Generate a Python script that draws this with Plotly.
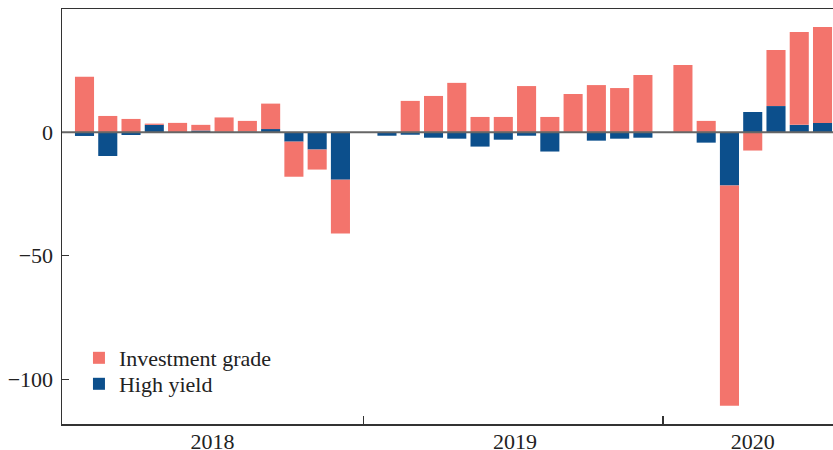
import plotly.graph_objects as go

# ---- data ----
years = [2018] * 12 + [2019] * 12 + [2020] * 7
months = list(range(1, 13)) + list(range(1, 13)) + list(range(1, 8))

investment_grade = [
    22.5, 6.6, 5.4, 0.5, 3.8, 2.3, 5.8, 4.3, 10.3, -14.2, -8.1, -21.8,
    0.0, 12.7, 14.7, 20.0, 6.2, 6.2, 18.7, 6.2, 15.5, 19.1, 17.9, 23.2,
    27.2, 4.6, -89.1, -7.4, 22.7, 37.6, 38.8,
]
high_yield = [
    -1.5, -9.6, -1.1, 3.0, 0.0, 0.7, 0.2, 0.3, 1.3, -3.8, -7.0, -19.2,
    -1.4, -1.0, -2.2, -2.6, -5.8, -3.0, -1.4, -7.8, 0.0, -3.4, -2.6, -2.2,
    0.0, -4.2, -21.6, 8.2, 10.6, 3.0, 3.8,
]
year_labels = ["2018", "2019", "2020"]
y_tickvals = [0, -50, -100]

# slot layout: months within a year, with a gap between years
year_offset = {2018: 0.0, 2019: 13.0, 2020: 25.72}
x = [year_offset[y] + (m - 1) for y, m in zip(years, months)]

# year label positions (center of each year's bars) and boundary ticks
centers = []
for yl in year_labels:
    xs = [xx for xx, yy in zip(x, years) if str(yy) == yl]
    centers.append(sum(xs) / len(xs))
bounds = []
for a, b in zip(year_labels[:-1], year_labels[1:]):
    last_a = max(xx for xx, yy in zip(x, years) if str(yy) == a)
    first_b = min(xx for xx, yy in zip(x, years) if str(yy) == b)
    bounds.append((last_a + first_b) / 2)

RED = "#F3746C"
BLUE = "#0C4F8C"
FONT = "Liberation Serif"
TXT = "#222222"

fig = go.Figure()
fig.add_trace(go.Bar(x=x, y=high_yield, name="High yield", marker_color=BLUE,
                     marker_line_width=0, width=0.82, legend="legend2"))
fig.add_trace(go.Bar(x=x, y=investment_grade, name="Investment grade", marker_color=RED,
                     marker_line_width=0, width=0.82, legend="legend"))

leg_common = dict(xanchor="left", yanchor="middle", bgcolor="rgba(0,0,0,0)",
                  font=dict(family=FONT, size=22, color=TXT), itemclick=False)
fig.update_layout(
    width=833, height=450,
    margin=dict(l=62, r=0, t=9, b=26, autoexpand=False),
    barmode="relative",
    plot_bgcolor="white", paper_bgcolor="white",
    font=dict(family=FONT, size=22, color=TXT),
    showlegend=True,
    legend=dict(x=0.022, y=0.159, **leg_common),
    legend2=dict(x=0.022, y=0.0964, **leg_common),
)

fig.update_xaxes(
    range=[-0.967, 32.17], automargin=False,
    showgrid=False, zeroline=False,
    showline=True, linecolor="#333333", linewidth=1.5, mirror=True,
    tickmode="array", tickvals=centers, ticktext=year_labels,
    ticks="", ticklen=0, ticklabelstandoff=-3,
    minor=dict(tickmode="array", tickvals=bounds, ticks="inside", ticklen=8,
               tickcolor="#333333", tickwidth=1.2, showgrid=False),
    tickfont=dict(family=FONT, size=22, color=TXT),
)
fig.update_yaxes(
    range=[-118.1, 49.9], automargin=False,
    showgrid=False, zeroline=False,
    showline=True, linecolor="#333333", linewidth=1.5, mirror=False,
    tickmode="array", tickvals=y_tickvals,
    ticks="inside", ticklen=7, tickcolor="#333333", tickwidth=1.2,
    ticklabelstandoff=3,
    tickfont=dict(family=FONT, size=22, color=TXT),
)

fig.add_shape(type="line", xref="paper", x0=0, x1=1, yref="y", y0=0, y1=0,
              line=dict(color="#666666", width=2), layer="above")

fig.write_html("out.html", config={"displayModeBar": False, "staticPlot": True},
               post_script="document.body.style.margin='0';document.body.style.overflow='hidden';")
